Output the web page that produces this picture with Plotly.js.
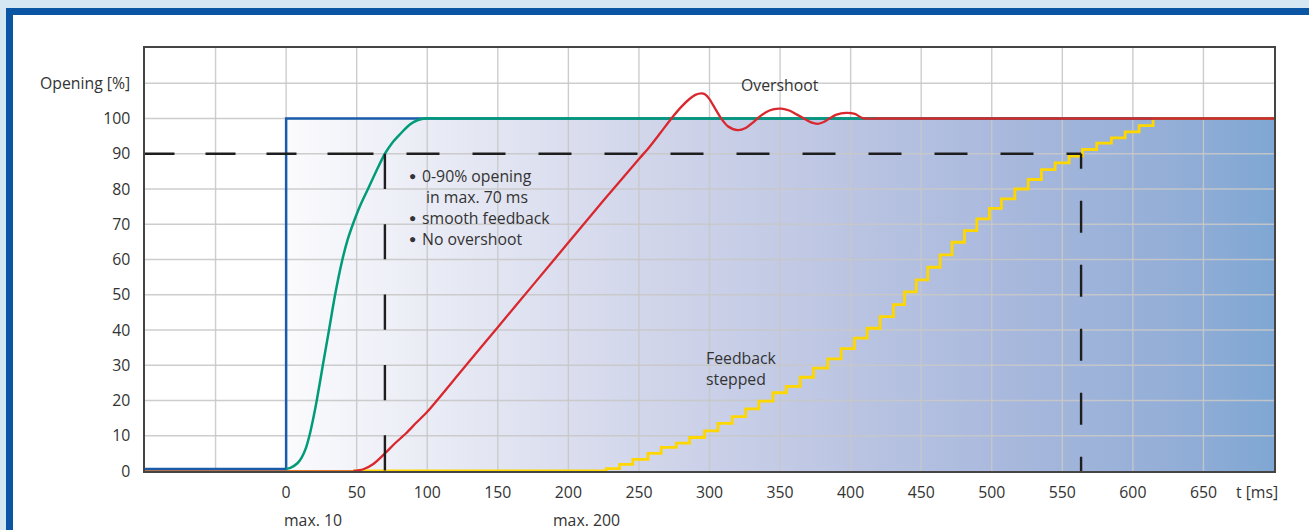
<!DOCTYPE html>
<html>
<head>
<meta charset="utf-8">
<script src="https://cdn.plot.ly/plotly-3.0.1.min.js"></script>
<style>
  html, body { margin:0; padding:0; width:1309px; height:530px; overflow:hidden; background:#d6e7f4; }
  #frame { position:absolute; left:6px; top:8px; width:1400px; height:600px; background:#ffffff;
           border-left:7px solid #0a56a5; border-top:7px solid #0a56a5; }
  #chart { position:absolute; left:0; top:0; width:1309px; height:530px; }
</style>
</head>
<body>
<div id="frame"></div>
<div id="chart"></div>
<script>
// ---- data (t in ms, opening in %) ----
const blueT = [-100, 0, 0, 700];
const blueV = [0.6, 0.6, 100, 100];

const greenT = [0, 3, 8, 11, 14, 16.5, 19, 21.7, 26, 30.4, 34.7, 39.6, 43.5, 47.5, 52.5, 58, 64, 70, 75, 80.6, 87.7, 93, 98, 110, 700];
const greenV = [0.6, 0.9, 2.2, 3.8, 6.5, 10, 14.5, 20, 30, 40, 50, 59.5, 65.5, 70.2, 75.3, 80, 85.2, 90, 93, 95.5, 98.3, 99.5, 100, 100, 100];

const orangeT = [-100, 47.6];
const orangeV = [0, 0];

const redT = [47.6, 54.7, 61.8, 70, 77, 85, 92, 100, 125, 150, 175, 200, 225, 250, 257.6, 265, 273, 280, 286, 290, 294.2, 297, 300, 304, 308.3, 313, 320, 326, 330, 334, 340, 345, 350.8, 357, 362, 367, 372, 376.7, 381, 385, 390, 396.8, 403, 408.6, 420, 700];
const redV = [0, 0.5, 2, 5, 7.8, 10.7, 13.6, 16.8, 28.8, 40.8, 52.8, 64.8, 76.8, 88.5, 92, 95.8, 100, 103.3, 105.6, 106.7, 107.1, 106.8, 105.5, 102.8, 100, 97.8, 96.7, 97.4, 98.6, 100, 101.8, 102.6, 102.8, 102.2, 101.1, 100, 98.9, 98.5, 99, 100, 101.1, 101.6, 101.3, 100.1, 100, 100];

const yellowT = [47.6, 226.9, 236.3, 245.7, 256.4, 265.8, 276.5, 285.9, 296.5, 306.0, 316.1, 325.6, 335.0, 345.0, 354.4, 364.3, 373.7, 383.8, 393.3, 402.7, 411.7, 420.9, 430.3, 438.2, 446.5, 454.7, 463.4, 471.9, 480.7, 489.4, 498.3, 506.9, 516.4, 525.8, 535.2, 544.9, 554.8, 564.3, 574.4, 584.8, 594.5, 604.4, 614.3, 700];
const yellowV = [0, 0.7, 1.9, 3.3, 5.0, 6.7, 7.9, 9.5, 11.4, 13.5, 15.4, 17.6, 19.8, 22.2, 24.0, 26.6, 29.2, 31.8, 34.7, 37.7, 40.5, 43.8, 47.2, 50.8, 54.2, 57.8, 61.3, 64.9, 68.2, 71.5, 74.5, 77.2, 80.0, 82.7, 85.5, 87.4, 89.3, 91.2, 93.0, 94.5, 96.2, 98.0, 100, 100];

// shaded region (0..700 ms, 0..100 %)
const shadeT = [0, 700];
const shadeV = [0, 100];

// reference marks: 90 % level, reached at 70 ms (smooth) and ~563 ms (stepped)
const level90 = 90;
const t90Smooth = 70;
const t90Stepped = 563.3;

// axes
const xRange = [-100, 700];
const yRange = [0, 120];
const xGrid = [-50, 0, 50, 100, 150, 200, 250, 300, 350, 400, 450, 500, 550, 600, 650];
const yGrid = [10, 20, 30, 40, 50, 60, 70, 80, 90, 100, 110];
const xTicks = [0, 50, 100, 150, 200, 250, 300, 350, 400, 450, 500, 550, 600, 650, 688];
const xTickText = ['0', '50', '100', '150', '200', '250', '300', '350', '400', '450', '500', '550', '600', '650', 't [ms]'];
const yTicks = [0, 10, 20, 30, 40, 50, 60, 70, 80, 90, 100, 110];
const yTickText = ['0', '10', '20', '30', '40', '50', '60', '70', '80', '90', '100', 'Opening [%]'];

// ---- build ----
const FONT = '"Open Sans", "Noto Sans", sans-serif';
const TXT = '#333333';
const FS = 15.8;

const gx = [], gy = [];
xGrid.forEach(v => { gx.push(v, v, null); gy.push(yRange[0], yRange[1], null); });
yGrid.forEach(v => { gx.push(xRange[0], xRange[1], null); gy.push(v, v, null); });

const traces = [
  { x: [shadeT[0], shadeT[1], shadeT[1], shadeT[0], shadeT[0]],
    y: [shadeV[0], shadeV[0], shadeV[1], shadeV[1], shadeV[0]],
    type: 'scatter', mode: 'lines', fill: 'toself', line: { width: 0 },
    fillgradient: { type: 'horizontal',
      colorscale: [[0, '#fbfbfd'], [0.15, '#e9ebf5'], [0.35, '#d3d7eb'], [0.55, '#bdc6e3'], [0.75, '#a6b7dc'], [0.9, '#93aed7'], [1, '#7fa7d3']] },
    hoverinfo: 'skip', showlegend: false },
  { x: gx, y: gy, type: 'scatter', mode: 'lines', line: { color: 'rgba(200,200,200,0.9)', width: 1.4 },
    hoverinfo: 'skip', showlegend: false },
  { x: orangeT, y: orangeV, type: 'scatter', mode: 'lines', line: { color: '#e8792b', width: 2.2 }, showlegend: false },
  { x: blueT, y: blueV, type: 'scatter', mode: 'lines', line: { color: '#1a5cab', width: 2.5 }, showlegend: false },
  { x: yellowT, y: yellowV, type: 'scatter', mode: 'lines', line: { color: '#ffd700', width: 2.8, shape: 'hv' }, showlegend: false },
  { x: greenT, y: greenV, type: 'scatter', mode: 'lines', line: { color: '#009b78', width: 2.5, shape: 'spline', smoothing: 0.9 }, showlegend: false },
  { x: redT, y: redV, type: 'scatter', mode: 'lines', line: { color: '#d9272e', width: 2.3, shape: 'spline', smoothing: 0.8 }, showlegend: false }
];

// dash patterns
const hd = [29.5, 31, 30, 31, 30, 31, 46, 33];
for (let i = 0; i < 12; i++) hd.push(33, 33);
const hDash = hd.map(v => v + 'px').join(',');
const v1Dash = '35.2px,35.2px';
const v2Dash = '15px,32px,32px,32px,32px,32px,32px,32px,32px,32px,16px';

const shapes = [
  { type: 'line', xref: 'x', yref: 'y', x0: xRange[0], x1: t90Stepped, y0: level90, y1: level90,
    line: { color: '#1e1e1e', width: 2.6, dash: hDash } },
  { type: 'line', xref: 'x', yref: 'y', x0: t90Smooth, x1: t90Smooth, y0: level90, y1: 0,
    line: { color: '#1e1e1e', width: 2.4, dash: v1Dash } },
  { type: 'line', xref: 'x', yref: 'y', x0: t90Stepped, x1: t90Stepped, y0: level90, y1: 0,
    line: { color: '#1e1e1e', width: 2.4, dash: v2Dash } }
];

const ann = (x, y, text, xa, size, yref) => ({ x, y, xref: 'x', yref: yref || 'y', text, showarrow: false,
  xanchor: xa || 'left', yanchor: 'middle', font: { family: FONT, size: size || FS, color: TXT } });

const noteLines = ['0-90% opening', 'in max. 70 ms', 'smooth feedback', 'No overshoot'];
const noteY = [83.6, 77.6, 71.8, 65.8];
const noteBullet = [true, false, true, true];

const annotations = [];
noteLines.forEach((s, i) => {
  annotations.push(ann(noteBullet[i] ? 95.2 : 97.6, noteY[i], s));
  if (noteBullet[i]) annotations.push(ann(89.5, noteY[i] + 0.1, '●', 'center', 12));
});
annotations.push(
  ann(350.3, 109.4, 'Overshoot', 'center'),
  ann(296, 32.0, 'Feedback'),
  ann(296, 26.0, 'stepped'),
  ann(-3, -0.116, 'max. 10', 'left', FS, 'paper'),
  ann(188, -0.116, 'max. 200', 'left', FS, 'paper')
);

const axisCommon = {
  showgrid: false, zeroline: false, showline: true, mirror: true,
  linecolor: '#454545', linewidth: 1.6, ticks: 'outside', tickcolor: 'rgba(0,0,0,0)',
  tickmode: 'array', tickfont: { family: FONT, size: FS, color: TXT },
  layer: 'below traces', fixedrange: true
};

const layout = {
  width: 1309, height: 530,
  margin: { l: 145, r: 35, t: 48, b: 59 },
  paper_bgcolor: 'rgba(0,0,0,0)', plot_bgcolor: '#ffffff',
  showlegend: false,
  xaxis: Object.assign({}, axisCommon, { range: xRange, tickvals: xTicks, ticktext: xTickText, ticklen: 6 }),
  yaxis: Object.assign({}, axisCommon, { range: yRange, tickvals: yTicks, ticktext: yTickText, ticklen: 10 }),
  shapes, annotations
};

Plotly.newPlot('chart', traces, layout, { staticPlot: true, displayModeBar: false });
</script>
</body>
</html>
